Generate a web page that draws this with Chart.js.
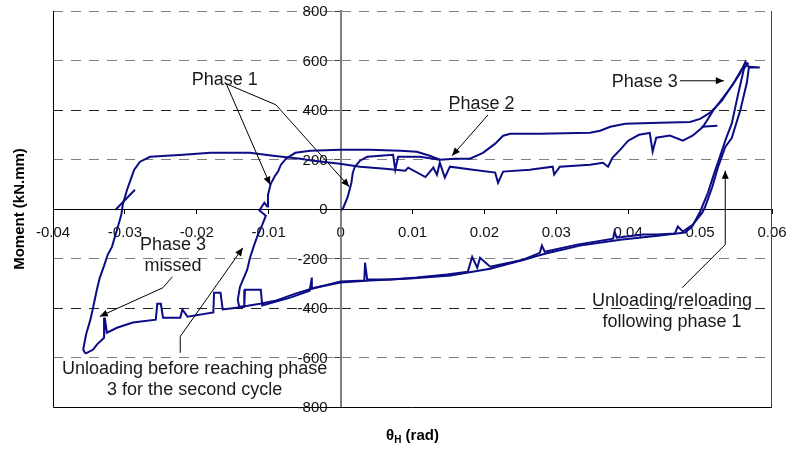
<!DOCTYPE html>
<html>
<head>
<meta charset="utf-8">
<script src="https://cdn.jsdelivr.net/npm/chart.js@4.4.1/dist/chart.umd.min.js"></script>
<style>
    html, body { margin: 0; padding: 0; background: #fff; }
    #wrap { width: 791px; height: 450px; }
</style>
</head>
<body>
<div id="wrap"><canvas id="chart" width="791" height="450"></canvas></div>
<script>
// [theta_H (rad), moment (kN.mm)], one array per branch
const firstLoading = [
    [0.0000, -5], [0.0003, 0], [0.0010, 50], [0.0015, 106], [0.0017, 147], [0.0020, 172],
    [0.0027, 195], [0.0037, 211], [0.0055, 215], [0.0073, 219], [0.0076, 159], [0.0080, 211],
    [0.0110, 211], [0.0138, 199], [0.0159, 203], [0.0180, 203], [0.0198, 227], [0.0215, 264],
    [0.0226, 296], [0.0236, 304], [0.0277, 304], [0.0347, 308], [0.0361, 316], [0.0375, 332],
    [0.0396, 344], [0.0444, 348], [0.0486, 352], [0.0500, 364], [0.0514, 389], [0.0530, 437],
    [0.0546, 506], [0.0556, 550], [0.0563, 595], [0.0568, 572], [0.0583, 572], [0.0568, 575]
];
const firstUnloading = [
    [0.0568, 575], [0.0565, 510], [0.0556, 400], [0.0544, 287], [0.0535, 251], [0.0525, 170],
    [0.0517, 90], [0.0507, 9], [0.0503, -15], [0.0490, -63], [0.0476, -91], [0.0469, -71],
    [0.0465, -99], [0.0440, -103], [0.0421, -103], [0.0384, -116], [0.0381, -92], [0.0379, -120],
    [0.0329, -144], [0.0284, -173], [0.0280, -148], [0.0277, -177], [0.0254, -205], [0.0208, -233],
    [0.0194, -197], [0.0190, -237], [0.0183, -193], [0.0177, -253], [0.0148, -265], [0.0106, -277],
    [0.0069, -285], [0.0037, -285], [0.0034, -217], [0.0033, -289], [0.0000, -293], [-0.0040, -322],
    [-0.0040, -277], [-0.0043, -330], [-0.0070, -358], [-0.0109, -390], [-0.0111, -326], [-0.0133, -326],
    [-0.0134, -395], [-0.0164, -406], [-0.0167, -338], [-0.0176, -338], [-0.0177, -418], [-0.0213, -435],
    [-0.0220, -406], [-0.0223, -439], [-0.0247, -439], [-0.0250, -383], [-0.0255, -383], [-0.0257, -447],
    [-0.0289, -459], [-0.0311, -480], [-0.0325, -500], [-0.0328, -439], [-0.0329, -520], [-0.0339, -548],
    [-0.0344, -568], [-0.0355, -584]
];
const reloading = [
    [-0.0355, -584], [-0.0358, -568], [-0.0354, -507], [-0.0348, -447], [-0.0344, -395], [-0.0339, -326],
    [-0.0335, -278], [-0.0329, -230], [-0.0324, -185], [-0.0318, -153], [-0.0311, -84], [-0.0305, -23],
    [-0.0303, 17], [-0.0297, 78], [-0.0291, 127], [-0.0287, 159], [-0.0279, 191], [-0.0265, 211],
    [-0.0219, 219], [-0.0181, 227], [-0.0126, 227], [-0.0094, 215], [-0.0056, 203], [-0.0038, 195],
    [-0.0001, 183], [0.0027, 171], [0.0062, 163], [0.0090, 155], [0.0094, 167], [0.0118, 129],
    [0.0129, 167], [0.0134, 138], [0.0138, 187], [0.0145, 127], [0.0152, 171], [0.0184, 159],
    [0.0215, 147], [0.0219, 106], [0.0226, 151], [0.0263, 159], [0.0295, 171], [0.0297, 139],
    [0.0305, 171], [0.0347, 179], [0.0365, 187], [0.0372, 171], [0.0378, 207], [0.0389, 240],
    [0.0400, 276], [0.0415, 300], [0.0430, 307], [0.0434, 232], [0.0439, 288], [0.0458, 297],
    [0.0476, 276], [0.0490, 297], [0.0504, 332], [0.0518, 397], [0.0532, 450], [0.0546, 505],
    [0.0558, 565], [0.0567, 590]
];
const secondUnloading = [
    [0.0567, 590], [0.0561, 567], [0.0553, 466], [0.0544, 345], [0.0536, 284], [0.0528, 215],
    [0.0519, 139], [0.0511, 66], [0.0500, -11], [0.0489, -71], [0.0479, -95], [0.0444, -107],
    [0.0389, -124], [0.0333, -148], [0.0284, -181], [0.0250, -209], [0.0208, -241], [0.0153, -269],
    [0.0097, -281], [0.0041, -289], [0.0000, -297], [-0.0036, -318], [-0.0063, -342], [-0.0091, -371],
    [-0.0112, -383], [-0.0129, -391], [-0.0141, -395]
];
const partialReload = [
    [-0.0141, -395], [-0.0143, -367], [-0.0140, -315], [-0.0136, -287], [-0.0130, -246], [-0.0126, -197],
    [-0.0120, -144], [-0.0115, -104], [-0.0109, -64], [-0.0104, -27], [-0.0113, -5], [-0.0106, 25],
    [-0.0102, 10], [-0.0101, 58], [-0.0097, 103], [-0.0091, 135], [-0.0087, 151], [-0.0083, 179],
    [-0.0076, 203], [-0.0063, 227], [-0.0042, 235], [-0.0001, 239], [0.0041, 239], [0.0083, 235],
    [0.0106, 231], [0.0124, 215], [0.0138, 199]
];
const smallLoopA = [[-0.0313, -3], [-0.0286, 78]];
const smallLoopB = [[0.0502, 332], [0.0524, 336]];

const xTickValues = [-0.04, -0.03, -0.02, -0.01, 0, 0.01, 0.02, 0.03, 0.04, 0.05, 0.06];
const yTickValues = [-800, -600, -400, -200, 0, 200, 400, 600, 800];

// callouts, in data units
const notes = [
    {lines: ['Phase 1'], at: [-0.0161, 522]},
    {lines: ['Phase 2'], at: [0.0196, 425]},
    {lines: ['Phase 3'], at: [0.0423, 515]},
    {lines: ['Unloading/reloading', 'following phase 1'], at: [0.0461, -370]},
    {lines: ['Phase 3', 'missed'], at: [-0.0233, -144]},
    {lines: ['Unloading before reaching phase', '3 for the second cycle'], at: [-0.0203, -645]}
];
const arrows = [
    [[-0.0159, 506], [-0.0098, 98]],
    [[-0.0159, 506], [-0.0090, 421], [0.0012, 90]],
    [[0.0205, 380], [0.0155, 215]],
    [[0.0472, 518], [0.0533, 518]],
    [[0.0475, -318], [0.0535, -144], [0.0535, 155]],
    [[-0.0234, -274], [-0.0247, -318], [-0.0335, -434]],
    [[-0.0223, -581], [-0.0223, -515], [-0.0136, -157]]
];

const branches = [firstLoading, firstUnloading, reloading, secondUnloading, partialReload, smallLoopA, smallLoopB];
const FONT = '"Liberation Sans", Arial, sans-serif';

const overlay = {
    id: 'overlay',
    beforeDatasetsDraw(chart) {
        const {ctx, chartArea: a} = chart;
        const sx = chart.scales.x, sy = chart.scales.y;
        ctx.save();
        ctx.lineWidth = 1;
        ctx.strokeStyle = '#000';
        ctx.beginPath();
        ctx.moveTo(a.left + 0.5, a.top);
        ctx.lineTo(a.left + 0.5, a.bottom + 0.5);
        ctx.lineTo(a.right, a.bottom + 0.5);
        ctx.stroke();
        ctx.strokeStyle = '#444';
        ctx.beginPath();
        ctx.moveTo(a.right - 0.5, a.top);
        ctx.lineTo(a.right - 0.5, a.bottom + 0.5);
        ctx.stroke();

        // y tick labels sit left of the centred axis
        ctx.fillStyle = '#111';
        ctx.font = '15px ' + FONT;
        ctx.textAlign = 'right';
        ctx.textBaseline = 'middle';
        const ax = sx.getPixelForValue(0) - 13;
        yTickValues.forEach(v => ctx.fillText(String(v), ax, sy.getPixelForValue(v) + 1));
        ctx.restore();
    },
    afterDatasetsDraw(chart) {
        const {ctx, chartArea: a} = chart;
        const sx = chart.scales.x, sy = chart.scales.y;
        const px = p => [sx.getPixelForValue(p[0]), sy.getPixelForValue(p[1])];
        ctx.save();

        ctx.strokeStyle = '#000';
        ctx.fillStyle = '#000';
        ctx.lineWidth = 1;
        arrows.forEach(path => {
            const pts = path.map(px);
            ctx.beginPath();
            pts.forEach((p, i) => i ? ctx.lineTo(p[0], p[1]) : ctx.moveTo(p[0], p[1]));
            ctx.stroke();
            const [x2, y2] = pts[pts.length - 1];
            const [x1, y1] = pts[pts.length - 2];
            const ang = Math.atan2(y2 - y1, x2 - x1);
            ctx.beginPath();
            ctx.moveTo(x2, y2);
            ctx.lineTo(x2 - 8 * Math.cos(ang) + 3.5 * Math.sin(ang), y2 - 8 * Math.sin(ang) - 3.5 * Math.cos(ang));
            ctx.lineTo(x2 - 8 * Math.cos(ang) - 3.5 * Math.sin(ang), y2 - 8 * Math.sin(ang) + 3.5 * Math.cos(ang));
            ctx.closePath();
            ctx.fill();
        });

        ctx.fillStyle = '#1a1a1a';
        ctx.font = '18px ' + FONT;
        ctx.textAlign = 'center';
        ctx.textBaseline = 'middle';
        notes.forEach(n => {
            const [x, y] = px(n.at);
            n.lines.forEach((t, i) => ctx.fillText(t, x, y + i * 21.5));
        });

        // axis titles
        ctx.fillStyle = '#000';
        ctx.font = 'bold 15px ' + FONT;
        ctx.save();
        ctx.translate(20, (a.top + a.bottom) / 2);
        ctx.rotate(-Math.PI / 2);
        ctx.fillText('Moment (kN.mm)', 0, 0);
        ctx.restore();

        const cx = (a.left + a.right) / 2, cy = 436;
        ctx.textAlign = 'left';
        ctx.font = 'bold 15px ' + FONT;
        const wTheta = ctx.measureText('θ').width;
        const wRad = ctx.measureText(' (rad)').width;
        ctx.font = 'bold 10px ' + FONT;
        const wH = ctx.measureText('H').width;
        let x0 = cx - (wTheta + wH + wRad) / 2;
        ctx.font = 'bold 15px ' + FONT;
        ctx.fillText('θ', x0, cy);
        ctx.font = 'bold 10px ' + FONT;
        ctx.fillText('H', x0 + wTheta, cy + 4);
        ctx.font = 'bold 15px ' + FONT;
        ctx.fillText(' (rad)', x0 + wTheta + wH, cy);
        ctx.restore();
    }
};

const chart = new Chart(document.getElementById('chart'), {
    type: 'scatter',
    data: {
        datasets: branches.map(b => ({
            data: b.map(p => ({x: p[0], y: p[1]})),
            showLine: true,
            borderColor: '#0c0c86',
            borderWidth: 2,
            pointRadius: 0,
            tension: 0
        }))
    },
    options: {
        responsive: false,
        animation: false,
        events: [],
        layout: {padding: {left: 53, right: 19, top: 11, bottom: 43}},
        plugins: {legend: {display: false}, tooltip: {enabled: false}},
        scales: {
            x: {
                type: 'linear',
                position: {y: 0},
                min: -0.04,
                max: 0.06,
                afterBuildTicks: s => { s.ticks = xTickValues.map(v => ({value: v})); },
                ticks: {
                    font: {family: FONT, size: 15, lineHeight: 2.4},
                    color: '#111',
                    padding: 2,
                    maxRotation: 0,
                    autoSkip: false,
                    callback: v => String(+v.toFixed(2))
                },
                grid: {drawOnChartArea: false, drawTicks: true, tickLength: 4, tickColor: '#000'},
                border: {color: '#000', width: 1}
            },
            y: {
                type: 'linear',
                position: {x: 0},
                min: -800,
                max: 800,
                afterBuildTicks: s => { s.ticks = yTickValues.map(v => ({value: v})); },
                ticks: {display: false},
                grid: {
                    drawTicks: true,
                    tickLength: 6,
                    tickColor: '#444',
                    color: c => {
                        const v = c.tick ? c.tick.value : null;
                        if (v === 0 || v === -800) return 'rgba(0,0,0,0)';
                        return Math.abs(v) === 400 ? '#222' : '#808080';
                    }
                },
                border: {color: '#7f7f7f', width: 2, dash: [10, 8]}
            }
        }
    },
    plugins: [overlay]
});
</script>
</body>
</html>
